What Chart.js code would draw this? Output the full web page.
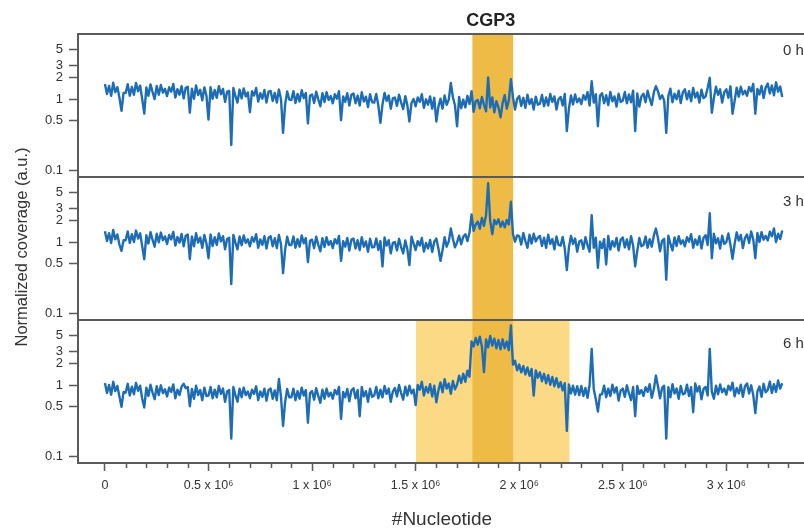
<!DOCTYPE html>
<html>
<head>
<meta charset="utf-8">
<script src="https://cdn.jsdelivr.net/npm/chart.js@4.4.1/dist/chart.umd.min.js"></script>
<style>
  html, body { margin: 0; padding: 0; background: #ffffff; overflow: hidden; }
  #wrap { position: relative; width: 804px; height: 530px; }
  canvas { display: block; }
</style>
</head>
<body>
<div id="wrap"><canvas id="cov" width="804" height="530"></canvas></div>
<script>
// Genome binned in 10 kb windows; one normalized coverage value per bin.
const BIN_SIZE = 10000;

const panelLabels = ['0 h', '3 h', '6 h'];
const regionTitle = 'CGP3';
// CGP3 prophage locus and the wider amplified flank seen at 6 h (bp)
const cgp3Region = [1774000, 1971000];
const flankRegion = [1502000, 2243000];

const yTickValues = [0.1, 0.5, 1, 2, 3, 5];
const xTickValues = [0, 500000, 1000000, 1500000, 2000000, 2500000, 3000000];

const coverage0h = [
  1.64,1.19,1.54,1.12,1.71,1.26,1.48,1.06,0.69,1.23,
  1.23,1.63,1.12,1.49,1.16,1.69,1.30,1.55,1.01,0.63,
  1.47,1.12,1.62,1.26,1.01,1.54,1.16,1.59,1.24,1.40,
  1.11,1.48,1.28,1.64,1.06,1.39,1.16,1.53,1.03,1.45,
  1.50,0.65,1.41,1.02,1.56,1.15,1.36,0.97,1.47,1.13,
  0.52,1.48,1.02,1.35,1.05,1.53,1.18,1.40,0.92,1.28,
  1.31,0.23,1.44,1.12,0.90,1.37,1.03,1.42,1.10,1.25,
  0.66,1.30,1.13,1.44,0.93,1.22,1.02,1.35,0.90,1.28,
  1.31,0.95,1.23,0.90,1.37,1.01,0.34,0.85,1.29,0.99,
  0.98,1.30,0.89,1.19,0.93,1.34,1.04,1.23,0.46,1.12,
  1.17,0.89,1.28,1.00,0.80,1.22,0.92,1.26,0.98,1.11,
  0.88,1.18,1.02,1.30,0.51,1.10,0.92,1.22,0.82,1.16,
  1.21,0.88,1.13,0.82,1.26,0.93,1.09,0.78,1.18,0.91,
  0.90,1.19,0.82,0.47,0.85,1.23,0.95,1.13,0.74,1.03,
  1.06,0.81,1.16,0.90,0.73,1.11,0.83,0.49,0.89,1.01,
  0.80,1.06,0.92,1.18,0.76,1.00,0.84,1.10,0.74,1.05,
  0.49,0.79,1.02,0.74,1.13,0.84,0.99,1.70,1.07,0.82,
  0.42,1.08,0.75,0.99,0.77,1.12,0.86,1.30,0.67,0.94,
  0.98,0.75,1.08,0.84,0.68,2.03,0.77,1.06,0.66,0.94,
  0.77,0.56,0.89,1.14,0.74,0.97,1.92,1.07,0.72,1.01,
  1.11,0.81,1.05,0.76,1.16,0.86,1.01,0.72,1.09,0.84,
  0.87,1.15,0.80,1.06,0.82,1.19,0.92,1.10,0.72,1.00,
  1.08,0.82,1.19,0.36,0.74,1.13,0.85,1.17,0.91,1.03,
  0.86,1.14,0.99,1.26,0.82,1.80,0.90,1.18,0.42,1.12,
  1.22,0.88,1.14,0.83,1.27,0.94,1.10,0.79,1.20,0.92,
  0.96,1.27,0.88,1.17,0.91,1.32,0.36,1.21,0.79,1.10,
  1.20,0.91,1.32,1.02,0.83,1.25,1.53,1.30,1.01,1.14,
  0.96,0.34,1.11,1.41,0.91,1.20,1.00,1.32,0.89,1.25,
  1.38,1.00,1.30,0.94,1.44,1.06,1.25,0.90,1.36,1.04,
  1.10,1.45,2.00,0.65,1.04,1.50,1.16,1.38,0.90,1.26,
  1.38,1.05,1.52,0.63,0.95,1.45,1.09,1.50,1.17,1.32,
  1.12,1.49,1.29,1.65,0.63,1.40,1.17,1.54,1.04,1.46,
  1.66,1.21,1.56,1.14,1.73,1.28,1.51,1.08
];

const coverage3h = [
  1.43,1.04,1.34,0.98,1.49,1.10,1.29,0.93,0.76,1.07,
  1.07,1.42,0.98,1.30,1.01,1.46,1.13,1.34,0.88,0.58,
  1.26,0.96,1.39,1.08,0.87,1.32,1.00,1.37,1.07,1.21,
  0.95,1.27,1.10,1.40,0.90,1.19,0.99,1.31,0.88,1.24,
  1.29,0.58,1.21,0.88,1.34,0.99,1.17,0.84,1.27,0.97,
  0.60,1.29,0.89,1.18,0.92,1.33,1.03,1.22,0.80,1.11,
  1.16,0.26,1.27,0.99,0.80,1.21,0.91,1.25,0.98,1.10,
  0.88,1.18,1.02,1.30,0.84,1.10,0.92,1.22,0.82,1.16,
  1.22,0.88,1.14,0.83,1.27,0.94,0.37,0.79,1.20,0.92,
  0.92,1.21,0.84,1.11,0.87,1.25,0.97,1.15,0.53,1.05,
  1.09,0.83,1.20,0.93,0.75,1.14,0.86,1.18,0.92,1.04,
  0.83,1.11,0.96,1.23,0.55,1.04,0.87,1.15,0.77,1.09,
  1.13,0.82,1.07,0.78,1.18,0.87,1.03,0.74,1.12,0.85,
  0.86,1.13,0.78,1.04,0.46,1.17,0.90,1.07,0.70,0.98,
  1.01,0.77,1.12,0.86,0.70,1.06,0.80,0.48,1.20,0.97,
  0.78,1.04,0.90,1.15,0.74,0.98,0.82,1.08,0.73,1.02,
  1.13,0.82,0.55,0.78,1.18,0.87,1.03,1.56,1.12,0.85,
  1.00,1.24,0.94,1.20,1.30,1.04,1.36,2.45,1.45,1.78,
  1.95,1.55,2.20,1.70,2.40,6.70,2.00,1.30,2.05,1.80,
  2.10,1.65,1.95,1.62,2.05,1.78,3.70,1.30,1.02,1.25,
  1.22,0.93,1.35,1.04,0.84,1.28,0.96,1.32,1.03,1.16,
  1.23,0.89,1.16,0.84,1.28,0.95,1.11,0.80,1.21,0.92,
  0.90,1.19,0.82,0.41,0.85,1.23,0.95,1.13,0.74,1.03,
  1.07,0.81,1.18,0.91,0.74,2.39,0.84,1.16,0.44,1.02,
  0.83,1.11,0.49,1.23,0.79,1.04,0.87,1.15,0.77,1.09,
  1.17,0.85,1.10,0.80,1.22,0.90,0.46,0.76,1.15,0.88,
  0.92,1.21,0.84,1.11,0.87,1.25,1.56,1.15,0.75,1.05,
  1.12,0.30,1.24,0.96,0.77,1.17,0.89,1.22,0.95,1.07,
  0.88,1.18,1.02,1.30,0.84,1.10,0.92,1.22,0.82,1.16,
  1.26,0.92,2.55,0.60,1.32,0.97,1.14,0.82,1.24,0.95,
  1.01,1.33,0.92,0.59,0.95,1.38,1.06,1.27,0.83,1.15,
  1.29,0.98,1.42,1.10,0.60,1.35,1.01,1.39,1.09,1.23,
  1.06,1.41,1.22,1.56,1.01,1.32,1.11,1.46
];

const coverage6h = [
  1.08,0.78,1.01,0.74,1.12,0.83,0.98,0.70,0.50,0.81,
  0.79,1.05,0.72,0.96,0.75,1.08,0.84,0.99,0.65,0.49,
  0.93,0.71,1.02,0.79,0.64,0.97,0.73,1.00,0.78,0.88,
  0.70,0.93,0.81,1.03,0.66,0.87,0.73,0.96,1.05,0.91,
  0.95,0.51,0.89,0.65,0.99,0.73,0.86,0.62,0.93,0.71,
  0.72,0.95,0.66,0.87,0.68,0.98,0.76,0.90,0.59,0.82,
  0.86,0.18,0.95,0.73,0.59,0.90,0.68,0.93,0.73,0.82,
  0.66,0.87,0.76,0.97,0.62,0.82,0.69,0.90,0.61,0.86,
  0.90,0.65,0.85,0.62,1.23,0.69,0.27,0.59,0.89,0.68,
  0.68,0.90,0.62,0.83,0.65,0.93,0.72,0.86,0.30,0.78,
  0.83,0.63,0.91,0.71,0.57,0.87,0.65,0.90,0.70,0.79,
  0.65,0.86,0.75,0.95,0.34,0.81,0.68,0.89,0.60,0.85,
  0.91,0.66,0.86,0.37,0.95,0.70,0.83,0.59,0.90,0.69,
  0.72,0.95,0.66,0.87,0.68,0.98,0.76,0.90,0.59,0.82,
  0.92,0.70,1.01,0.78,0.63,0.96,0.72,0.99,0.77,0.87,
  0.53,1.01,0.87,1.12,0.72,0.95,0.79,1.04,0.70,0.99,
  0.58,0.85,1.10,0.80,1.22,0.90,1.06,0.76,1.15,0.88,
  1.02,1.36,1.08,1.45,1.12,1.60,1.32,4.10,3.50,4.60,
  3.70,4.80,3.50,1.53,4.40,3.40,4.90,3.60,4.50,3.30,
  4.30,3.20,4.40,3.30,4.10,3.10,6.90,1.95,2.20,1.62,
  1.95,1.52,1.86,1.42,1.78,1.36,1.70,0.72,1.62,1.28,
  1.52,1.14,1.45,1.07,1.39,1.02,1.31,0.97,1.26,0.94,
  1.11,0.85,1.07,0.23,1.03,0.77,0.99,0.74,0.97,0.73,
  0.98,0.71,0.92,0.67,1.02,3.24,0.89,0.64,0.43,0.74,
  0.75,0.99,0.68,0.90,0.71,1.02,0.79,0.94,0.61,0.85,
  0.90,0.69,1.00,0.77,0.62,0.95,0.37,0.98,0.76,0.86,
  0.71,0.94,0.81,1.04,0.67,0.88,1.37,0.97,0.66,0.92,
  0.99,0.18,0.94,0.68,1.04,0.77,0.90,0.65,0.98,0.75,
  0.77,1.02,0.71,0.94,0.42,1.06,0.82,0.97,0.64,0.89,
  0.95,0.72,3.24,0.81,0.65,0.99,0.75,1.03,0.80,0.90,
  0.74,0.99,0.85,1.09,0.70,0.92,0.77,1.02,0.69,0.97,
  1.06,0.77,1.00,0.73,0.41,0.82,0.96,0.69,1.05,0.80,
  0.86,1.13,0.78,1.04,0.81,1.17,0.90,1.07
];

const LINE_COLOR = '#1e6db4';
const AXIS_COLOR = '#5a5a5a';
const TEXT_COLOR = '#333333';
const FONT = '"Liberation Sans", Arial, Helvetica, sans-serif';

function toPoints(values) {
  return values.map((v, i) => ({ x: i * BIN_SIZE, y: v }));
}

function logAxis() {
  return {
    type: 'logarithmic',
    position: 'left',
    stack: 'panels',
    stackWeight: 1,
    min: 0.082,
    max: 8.2,
    afterBuildTicks: (s) => { s.ticks = yTickValues.map(v => ({ value: v })); },
    afterFit: (s) => { s.width = 78; },
    ticks: {
      color: TEXT_COLOR,
      font: { family: FONT, size: 13 },
      padding: 6,
      autoSkip: false,
      callback: (v) => String(v)
    },
    grid: {
      drawOnChartArea: false,
      drawTicks: true,
      tickLength: 9,
      tickColor: AXIS_COLOR,
      tickWidth: 1.5
    },
    border: { display: true, color: AXIS_COLOR, width: 2 }
  };
}

// Shaded regions, panel frames, minor x ticks and free text
const decorations = {
  id: 'decorations',
  beforeDatasetsDraw(chart) {
    const { ctx, chartArea, scales } = chart;
    const x = scales.x;
    const bottom = scales.y6;
    ctx.save();
    ctx.fillStyle = '#fbd985';
    const fl = x.getPixelForValue(flankRegion[0]);
    const fr = x.getPixelForValue(flankRegion[1]);
    ctx.fillRect(fl, bottom.top, fr - fl, bottom.bottom - bottom.top);
    ctx.fillStyle = '#eebc46';
    const cl = x.getPixelForValue(cgp3Region[0]);
    const cr = x.getPixelForValue(cgp3Region[1]);
    ctx.fillRect(cl, chartArea.top, cr - cl, chartArea.bottom - chartArea.top);
    ctx.restore();
  },
  afterDraw(chart) {
    const { ctx, chartArea, scales } = chart;
    const x = scales.x;
    const panels = [scales.y0, scales.y3, scales.y6];
    ctx.save();
    ctx.strokeStyle = AXIS_COLOR;
    ctx.lineWidth = 2;
    panels.forEach((p) => {
      ctx.beginPath();
      ctx.moveTo(chartArea.left - 1, p.top);
      ctx.lineTo(chartArea.right, p.top);
      ctx.moveTo(chartArea.left - 1, p.bottom);
      ctx.lineTo(chartArea.right, p.bottom);
      ctx.stroke();
    });
    // minor ticks every 100 kb
    ctx.lineWidth = 1.5;
    ctx.beginPath();
    for (let k = 0; k <= 33; k++) {
      if (k % 5 === 0) continue;
      const px = Math.round(x.getPixelForValue(k * 100000)) + 0.5;
      ctx.moveTo(px, chartArea.bottom);
      ctx.lineTo(px, chartArea.bottom + 5);
    }
    ctx.stroke();

    ctx.fillStyle = '#222222';
    ctx.font = 'bold 18px ' + FONT;
    ctx.textAlign = 'center';
    ctx.textBaseline = 'middle';
    const mid = x.getPixelForValue((cgp3Region[0] + cgp3Region[1]) / 2);
    ctx.fillText(regionTitle, mid - 2, 21);

    ctx.fillStyle = TEXT_COLOR;
    ctx.font = '15px ' + FONT;
    ctx.textAlign = 'left';
    const labelY = [51, 202, 344];
    panelLabels.forEach((t, i) => ctx.fillText(t, 783, labelY[i]));

    ctx.font = '19px ' + FONT;
    ctx.textAlign = 'center';
    ctx.fillText('#Nucleotide', 442, 520);

    ctx.translate(22, 247);
    ctx.rotate(-Math.PI / 2);
    ctx.font = '16.5px ' + FONT;
    ctx.fillText('Normalized coverage (a.u.)', 0, 0);
    ctx.restore();
  }
};

new Chart(document.getElementById('cov'), {
  type: 'line',
  data: {
    datasets: [
      { label: panelLabels[0], data: toPoints(coverage0h), yAxisID: 'y0' },
      { label: panelLabels[1], data: toPoints(coverage3h), yAxisID: 'y3' },
      { label: panelLabels[2], data: toPoints(coverage6h), yAxisID: 'y6' }
    ].map(d => Object.assign(d, {
      borderColor: LINE_COLOR,
      borderWidth: 2.4,
      borderJoinStyle: 'round',
      pointRadius: 0,
      tension: 0,
      fill: false
    }))
  },
  options: {
    responsive: false,
    animation: false,
    devicePixelRatio: 1,
    layout: { padding: { top: 34, left: 0, right: 0, bottom: 0 } },
    plugins: { legend: { display: false }, tooltip: { enabled: false } },
    scales: {
      x: {
        type: 'linear',
        position: 'bottom',
        min: -130000,
        max: 3375000,
        afterBuildTicks: (s) => { s.ticks = xTickValues.map(v => ({ value: v })); },
        afterFit: (s) => { s.height = 67; },
        ticks: {
          color: TEXT_COLOR,
          font: { family: FONT, size: 12.5 },
          padding: 7,
          maxRotation: 0,
          autoSkip: false,
          callback: (v) => v === 0 ? '0' : (v / 1e6) + ' x 10\u2076'
        },
        grid: {
          drawOnChartArea: false,
          drawTicks: true,
          tickLength: 8,
          tickColor: AXIS_COLOR,
          tickWidth: 1.5
        },
        border: { display: false }
      },
      y6: logAxis(),
      y3: logAxis(),
      y0: logAxis()
    }
  },
  plugins: [decorations]
});
</script>
</body>
</html>
